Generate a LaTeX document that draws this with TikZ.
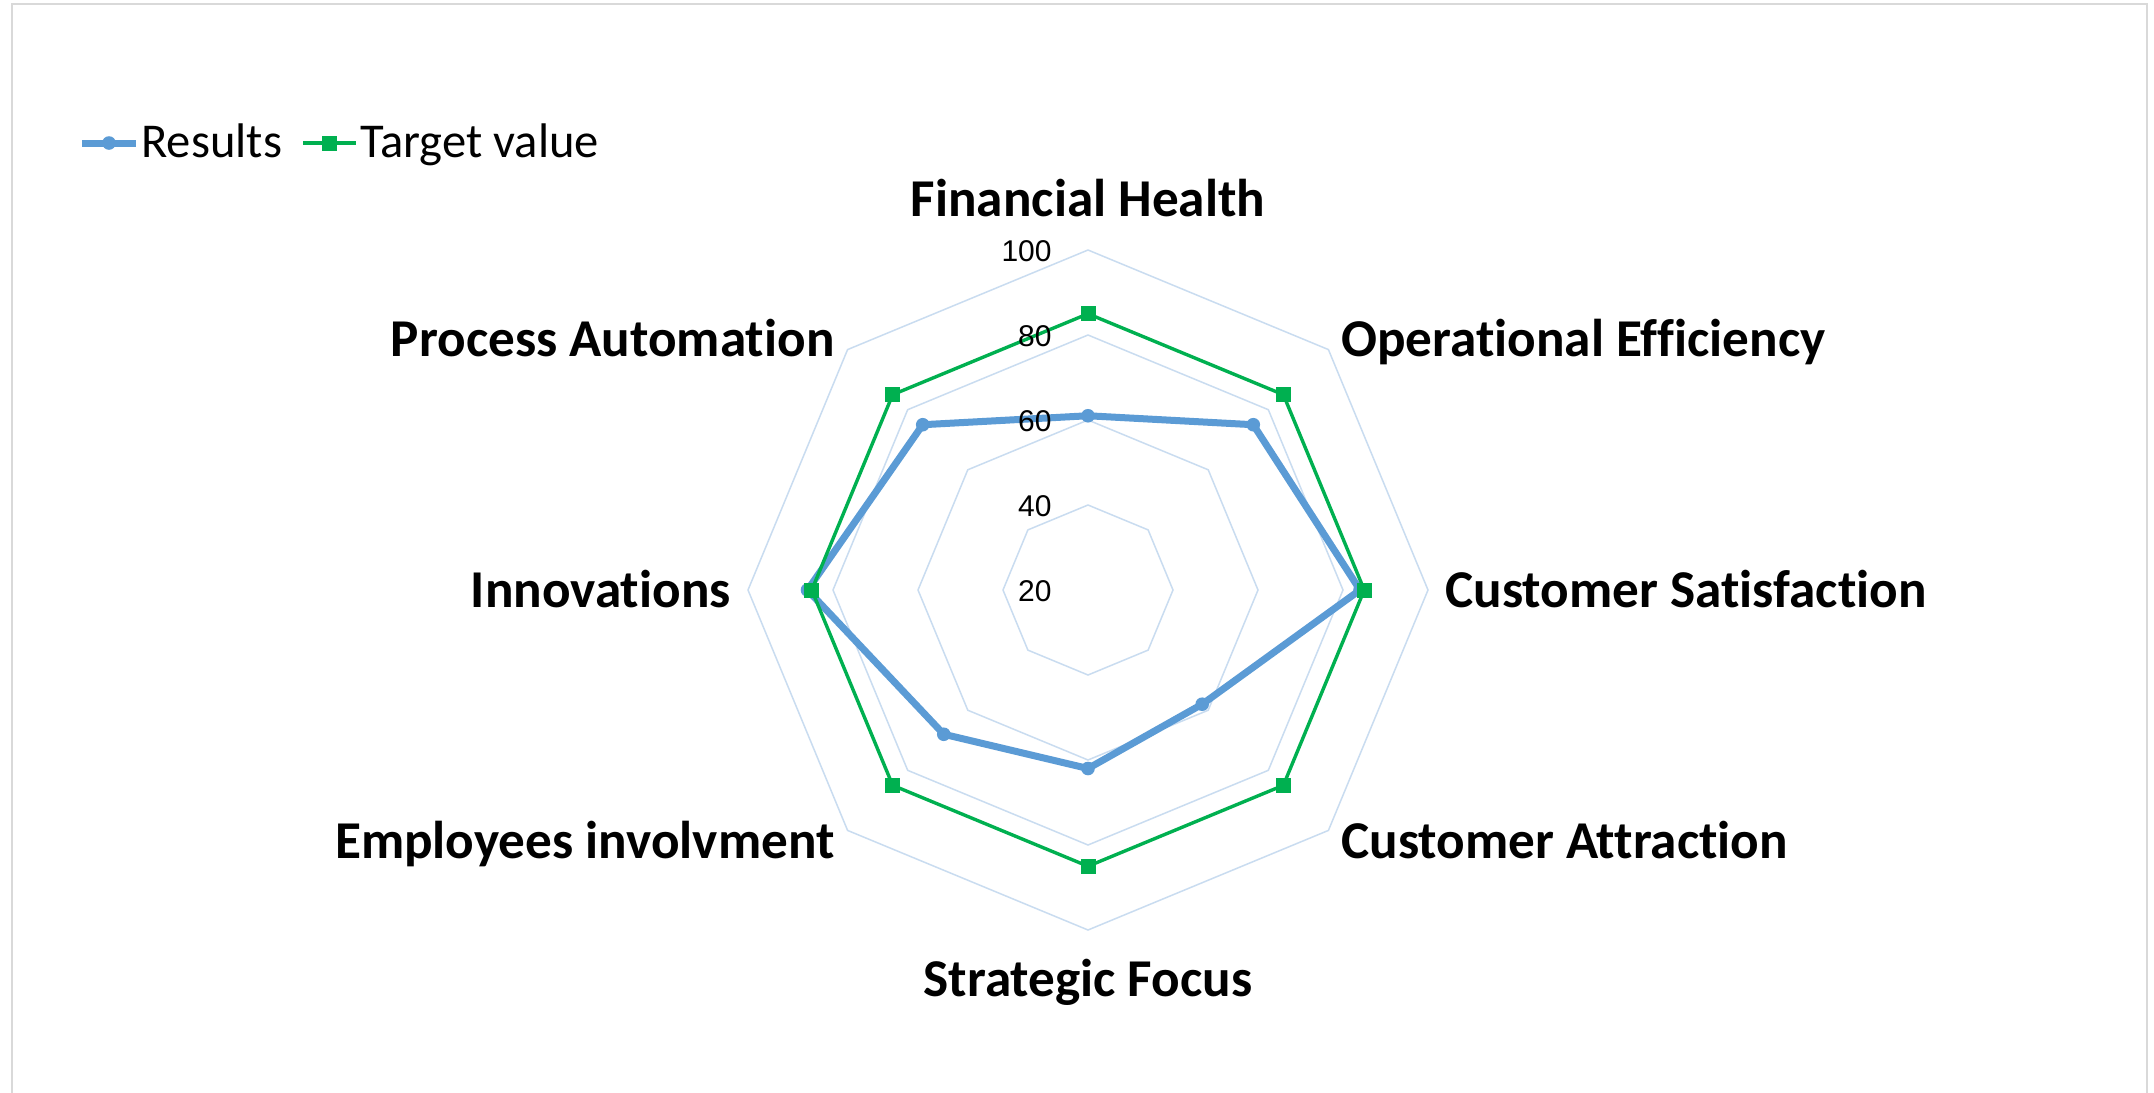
\documentclass[tikz,border=0pt]{standalone}
\usepackage{fontspec}
\setmainfont{Carlito}[Ligatures={NoCommon}]
\newfontfamily\arialfont{Liberation Sans}
\usetikzlibrary{calc}
\definecolor{resblue}{HTML}{5B9BD5}
\definecolor{tgtgreen}{HTML}{00B050}
\definecolor{ringcol}{HTML}{C9DCF0}
\definecolor{framecol}{HTML}{D9D9D9}
\begin{document}
\begin{tikzpicture}[x=0.5pt,y=-0.5pt,
  ring/.style={draw=ringcol, line width=0.75pt},
  resline/.style={draw=resblue, line width=3.5pt, line join=round},
  tgtline/.style={draw=tgtgreen, line width=1.7pt},
  resmark/.style={circle, fill=resblue, inner sep=0pt, minimum size=6.8pt},
  tgtmark/.style={rectangle, fill=tgtgreen, inner sep=0pt, minimum size=7.5pt},
  axlabel/.style={font=\fontsize{26.6}{30}\selectfont\bfseries, inner sep=0pt},
  ticklabel/.style={font=\arialfont\fontsize{15}{18}\selectfont, inner sep=0pt, anchor=base east},
  legtext/.style={font=\fontsize{24.3}{28}\selectfont, inner sep=0pt, anchor=base west}]
\useasboundingbox (0,0) rectangle (2154,1093);
\fill[white] (0,0) rectangle (2154,1093);
\draw[framecol, line width=1pt] (12,1093) -- (12,4) -- (2147,4) -- (2147,1093);

\begin{scope}[shift={(1088,590)}]
  \coordinate (C) at (0,0);
  \foreach \r in {85,170,255,340} {
    \draw[ring] (-90:\r) \foreach \i in {1,...,7} { -- ({-90+45*\i}:\r) } -- cycle;
  }
  \foreach \n/\v [count=\i from 0] in {fh/61,oe/75,cs/84,ca/58,sf/62,ei/68,in/86,pa/75}
    \coordinate (r\n) at ({-90+45*\i}:{(\v-20)*4.25});
  \foreach \n/\v [count=\i from 0] in {fh/85,oe/85,cs/85,ca/85,sf/85,ei/85,in/85,pa/85}
    \coordinate (t\n) at ({-90+45*\i}:{(\v-20)*4.25});

  % Results series
  \draw[resline] (rfh) -- (roe) -- (rcs) -- (rca) -- (rsf) -- (rei) -- (rin) -- (rpa) -- cycle;
  \foreach \n in {fh,oe,cs,ca,sf,ei,in,pa}
    \node[resmark] (mr\n) at (r\n) {};
  % Target series
  \draw[tgtline] (tfh) -- (toe) -- (tcs) -- (tca) -- (tsf) -- (tei) -- (tin) -- (tpa) -- cycle;
  \foreach \n in {fh,oe,cs,ca,sf,ei,in,pa}
    \node[tgtmark] (mt\n) at (t\n) {};

  % tick labels
  \node[ticklabel] (tick100) at (-36,-329) {100};
  \node[ticklabel] (tick80) at (-36,-244) {80};
  \node[ticklabel] (tick60) at (-36,-159) {60};
  \node[ticklabel] (tick40) at (-36,-74) {40};
  \node[ticklabel] (tick20) at (-36,11) {20};

  % axis labels
  \node[axlabel, anchor=base] (lfh) at (0,-374) {Financial Health};
  \node[axlabel, anchor=base west] (loe) at (253,-234) {Operational Efficiency};
  \node[axlabel, anchor=base west] (lcs) at (357,17) {Customer Satisfaction};
  \node[axlabel, anchor=base west] (lca) at (253,268) {Customer Attraction};
  \node[axlabel, anchor=base] (lsf) at (0,406) {Strategic Focus};
  \node[axlabel, anchor=base east] (lei) at (-253,268) {Employees involvment};
  \node[axlabel, anchor=base east] (lin) at (-357,17) {Innovations};
  \node[axlabel, anchor=base east] (lpa) at (-253,-234) {Process Automation};
\end{scope}

% legend
\coordinate (lgbA) at (82,143);
\coordinate (lgbB) at (136,143);
\draw[resline] (lgbA) -- (lgbB);
\node[resmark] (lgbm) at (109,143) {};
\node[legtext] (lgbt) at (141,157) {Results};
\coordinate (lggA) at (303,143);
\coordinate (lggB) at (356,143);
\draw[tgtline] (lggA) -- (lggB);
\node[tgtmark] (lggm) at (329,143) {};
\node[legtext] (lggt) at (360,157) {Target value};
\end{tikzpicture}
\end{document}
